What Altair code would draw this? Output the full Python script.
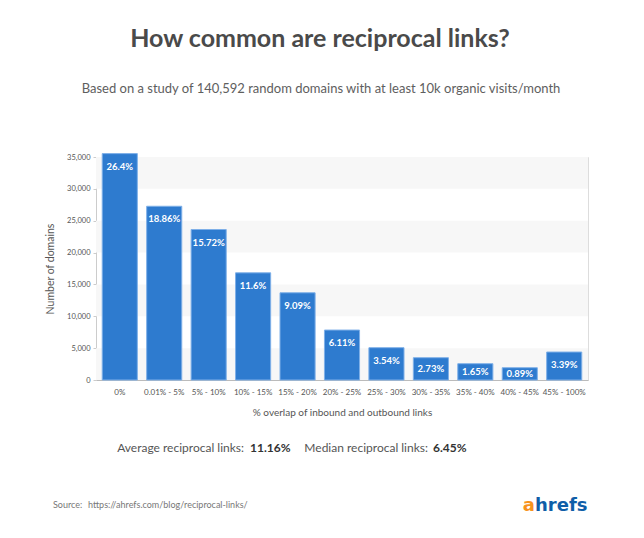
import altair as alt
import pandas as pd

categories = ["0%", "0.01% - 5%", "5% - 10%", "10% - 15%", "15% - 20%", "20% - 25%",
              "25% - 30%", "30% - 35%", "35% - 40%", "40% - 45%", "45% - 100%"]
domains = [35530, 27270, 23620, 16820, 13690, 7840, 5070, 3500, 2560, 1930, 4390]
shares = ["26.4%", "18.86%", "15.72%", "11.6%", "9.09%", "6.11%",
          "3.54%", "2.73%", "1.65%", "0.89%", "3.39%"]
band_start = [0, 10000, 20000, 30000]
band_end = [5000, 15000, 25000, 35000]

W, H = 492, 223
FONT = "Lato"

df = pd.DataFrame({"cat": categories, "n": domains, "lab": shares})
bands = pd.DataFrame({"s": band_start, "e": band_end})

yscale = alt.Scale(domain=[0, 35000], nice=False)
yaxis = alt.Axis(title="Number of domains", values=[0, 5000, 10000, 15000, 20000, 25000, 30000, 35000],
                 format=",d", grid=False, tickSize=3, tickColor="#cccccc", domainColor="#cccccc",
                 labelFontSize=7.5, labelColor="#555555", labelPadding=3, labelFont=FONT,
                 titleFont=FONT, titleFontSize=10.5, titleFontWeight="normal", titleColor="#555555",
                 titlePadding=11)
xaxis = alt.Axis(title="% overlap of inbound and outbound links", labelAngle=0, ticks=False,
                 domainColor="#bbbbbb", labelFontSize=8, labelColor="#555555", labelPadding=8,
                 labelFont=FONT, titleFont=FONT, titleFontSize=10, titleFontWeight="normal",
                 titleColor="#555555", titlePadding=11)

band_layer = alt.Chart(bands).mark_rect(color="#f7f7f7").encode(
    y=alt.Y("s:Q", scale=yscale, axis=yaxis),
    y2="e:Q",
    x=alt.value(0),
    x2=alt.value(W),
)

xenc = alt.X("cat:N", sort=categories, axis=xaxis,
             scale=alt.Scale(paddingInner=0.21, paddingOuter=0.14))

bars = alt.Chart(df).mark_bar(color="#2e7bcf", stroke="#7fb0e8", strokeWidth=1).encode(
    x=xenc,
    y=alt.Y("n:Q", scale=yscale, axis=yaxis),
)

# label sits 13px below the bar top, or at the bar's middle when the bar is short
labels = alt.Chart(df).transform_calculate(
    ly="max(datum.n - 2040, datum.n / 2)"
).mark_text(color="white", fontWeight="bold", fontSize=9.5, font=FONT,
            baseline="middle").encode(
    x=xenc,
    y=alt.Y("ly:Q", scale=yscale, axis=yaxis),
    text="lab:N",
)


def txt(t, x, y, size, color, weight="normal", align="center", font=FONT):
    return alt.Chart(pd.DataFrame({"t": [t]})).mark_text(
        fontSize=size, color=color, fontWeight=weight, align=align, baseline="middle", font=font
    ).encode(text="t:N", x=alt.value(x), y=alt.value(y))


ox, oy = 96, 157
texts = [
    txt("How common are reciprocal links?", 320 - ox, 39 - oy, 25, "#4a4a4a", "bold"),
    txt("Based on a study of 140,592 random domains with at least 10k organic visits/month",
        321 - ox, 89 - oy, 13, "#5e5e5e"),
    txt("Average reciprocal links:", 244 - ox, 448 - oy, 12, "#555555", align="right"),
    txt("11.16%", 250 - ox, 448 - oy, 12, "#333333", "bold", align="left"),
    txt("Median reciprocal links:", 428 - ox, 448 - oy, 12, "#555555", align="right"),
    txt("6.45%", 433 - ox, 448 - oy, 12, "#333333", "bold", align="left"),
    txt("Source:", 53 - ox, 505 - oy, 9, "#777777", align="left"),
    txt("https://ahrefs.com/blog/reciprocal-links/", 88 - ox, 505 - oy, 9, "#777777", align="left"),
    txt("a", 535 - ox, 506 - oy, 18, "#f7931d", "bold", align="right", font="DejaVu Sans"),
    txt("hrefs", 535 - ox, 506 - oy, 18, "#0f5ea8", "bold", align="left", font="DejaVu Sans"),
]

chart = alt.layer(band_layer, bars, labels, *texts).properties(
    width=W, height=H,
    autosize=alt.AutoSizeParams(type="none"),
    padding={"left": 88, "top": 149, "right": 48, "bottom": 145},
).configure_view(stroke=None).configure(background="white")

chart.save("out.html", embed_options={"renderer": "svg", "actions": False})
